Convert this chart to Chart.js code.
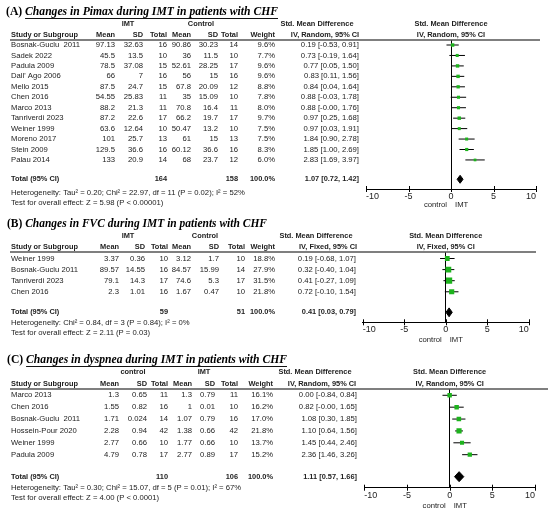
<!DOCTYPE html>
<html>
<head>
<meta charset="utf-8">
<script src="https://cdn.jsdelivr.net/npm/chart.js@4.4.1/dist/chart.umd.min.js"></script>
<style>
  body { margin: 0; background: #fff; }
  #wrap { position: relative; width: 550px; height: 516px; }
  canvas { position: absolute; left: 0; top: 0; }
</style>
</head>
<body>
<div id="wrap">
  <canvas id="chartA" width="550" height="516"></canvas>
  <canvas id="chartB" width="550" height="516"></canvas>
  <canvas id="chartC" width="550" height="516"></canvas>
</div>
<script>
// (A) Pimax
const studiesA = ['Bosnak-Guclu  2011', 'Sadek 2022', 'Padula 2009', "Dall' Ago 2006", 'Mello 2015', 'Chen 2016',
  'Marco 2013', 'Tanriverdi 2023', 'Weiner 1999', 'Moreno 2017', 'Stein 2009', 'Palau 2014'];
const imtMeanA = [97.13, 45.5, 78.5, 66, 87.5, 54.55, 88.2, 87.2, 63.6, 101, 129.5, 133];
const imtSdA = [32.63, 13.5, 37.08, 7, 24.7, 25.83, 21.3, 22.6, 12.64, 25.7, 36.6, 20.9];
const imtNA = [16, 10, 15, 16, 15, 11, 11, 17, 10, 13, 16, 14];
const ctlMeanA = [90.86, 36, 52.61, 56, 67.8, 35, 70.8, 66.2, 50.47, 61, 60.12, 68];
const ctlSdA = [30.23, 11.5, 28.25, 15, 20.09, 15.09, 16.4, 19.7, 13.2, 15, 36.6, 23.7];
const ctlNA = [14, 10, 17, 16, 12, 10, 11, 17, 10, 13, 16, 12];
const weightA = [9.6, 7.7, 9.6, 9.6, 8.8, 7.8, 8.0, 9.7, 7.5, 7.5, 8.3, 6.0];
const smdA = [0.19, 0.73, 0.77, 0.83, 0.84, 0.88, 0.88, 0.97, 0.97, 1.84, 1.85, 2.83];
const lowA = [-0.53, -0.19, 0.05, 0.11, 0.04, -0.03, -0.00, 0.25, 0.03, 0.90, 1.00, 1.69];
const highA = [0.91, 1.64, 1.50, 1.56, 1.64, 1.78, 1.76, 1.68, 1.91, 2.78, 2.69, 3.97];
const totalA = [1.07, 0.72, 1.42];

// (B) FVC
const studiesB = ['Weiner 1999', 'Bosnak-Guclu 2011', 'Tanriverdi 2023', 'Chen 2016'];
const imtMeanB = [3.37, 89.57, 79.1, 2.3];
const imtSdB = [0.36, 14.55, 14.3, 1.01];
const imtNB = [10, 16, 17, 16];
const ctlMeanB = [3.12, 84.57, 74.6, 1.67];
const ctlSdB = [1.7, 15.99, 5.3, 0.47];
const ctlNB = [10, 14, 17, 10];
const weightB = [18.8, 27.9, 31.5, 21.8];
const smdB = [0.19, 0.32, 0.41, 0.72];
const lowB = [-0.68, -0.40, -0.27, -0.10];
const highB = [1.07, 1.04, 1.09, 1.54];
const totalB = [0.41, 0.03, 0.79];

// (C) dyspnea
const studiesC = ['Marco 2013', 'Chen 2016', 'Bosnak-Guclu  2011', 'Hossein-Pour 2020', 'Weiner 1999', 'Padula 2009'];
const ctlMeanC = [1.3, 1.55, 1.71, 2.28, 2.77, 4.79];
const ctlSdC = [0.65, 0.82, 0.024, 0.94, 0.66, 0.78];
const ctlNC = [11, 16, 14, 42, 10, 17];
const imtMeanC = [1.3, 1, 1.07, 1.38, 1.77, 2.77];
const imtSdC = [0.79, 0.01, 0.79, 0.66, 0.66, 0.89];
const imtNC = [11, 10, 16, 42, 10, 17];
const weightC = [16.1, 16.2, 17.0, 21.8, 13.7, 15.2];
const smdC = [0.00, 0.82, 1.08, 1.10, 1.45, 2.36];
const lowC = [-0.84, -0.00, 0.30, 0.64, 0.44, 1.46];
const highC = [0.84, 1.65, 1.85, 1.56, 2.46, 3.26];
const totalC = [1.11, 0.57, 1.66];

const xTicks = [-10, -5, 0, 5, 10];

const SANS = '"Liberation Sans", Arial, sans-serif';
const SERIF = '"Liberation Serif", "Times New Roman", serif';
const TXT = '7.7px ' + SANS;
const TXT_B = 'bold 7.4px ' + SANS;
const GREEN = '#1db31d';
const INK = '#222';

function fmt(v) {
  return (Object.is(v, -0) ? '-' : '') + v.toFixed(2);
}
function ciText(e, lo, hi) {
  return fmt(e) + ' [' + fmt(lo) + ', ' + fmt(hi) + ']';
}
function sum(a) { return a.reduce((s, v) => s + v, 0); }

// title: bold "(A)" + bold italic text, squeezed a little to the width of the original
function drawTitle(ctx, p) {
  const size = 13.5;
  const lead = p.title[0] + ' ';
  const f1 = 'bold ' + size + 'px ' + SERIF;
  const f2 = 'italic bold ' + size + 'px ' + SERIF;
  ctx.font = f1;
  const w1 = ctx.measureText(lead).width;
  ctx.font = f2;
  const w2 = ctx.measureText(p.title[1]).width;
  const sx = Math.min(1, p.titleW / (w1 + w2));

  ctx.save();
  ctx.translate(p.titleX, p.titleY);
  ctx.scale(sx, 1);
  ctx.fillStyle = '#000';
  ctx.textAlign = 'left';
  ctx.textBaseline = 'middle';
  ctx.font = f1;
  ctx.fillText(lead, 0, 0);
  ctx.font = f2;
  ctx.fillText(p.title[1], w1, 0);
  if (p.underline) {
    ctx.strokeStyle = '#000';
    ctx.lineWidth = 1;
    ctx.beginPath();
    ctx.moveTo(w1, 6.5);
    ctx.lineTo(w1 + w2, 6.5);
    ctx.stroke();
  }
  ctx.restore();
}

function tablePlugin(p) {
  return {
    id: 'table',
    afterDraw(chart) {
      const ctx = chart.ctx, ys = chart.scales.y, xs = chart.scales.x, area = chart.chartArea;
      const mid = (area.left + area.right) / 2;
      ctx.save();
      drawTitle(ctx, p);

      // headers
      ctx.fillStyle = INK;
      ctx.textBaseline = 'middle';
      ctx.font = TXT_B;
      ctx.textAlign = 'center';
      ctx.fillText(p.groups[0], p.groupX[0], p.head1Y);
      ctx.fillText(p.groups[1], p.groupX[1], p.head1Y);
      ctx.fillText('Std. Mean Difference', p.smdX, p.head1Y);
      ctx.fillText('Std. Mean Difference', mid, p.head1Y);
      ctx.fillText(p.method, p.ivX, p.head2Y);
      ctx.fillText(p.method, mid, p.head2Y);
      ctx.textAlign = 'left';
      ctx.fillText('Study or Subgroup', 11, p.head2Y);
      ctx.textAlign = 'right';
      ['Mean', 'SD', 'Total', 'Mean', 'SD', 'Total', 'Weight'].forEach((h, k) => ctx.fillText(h, p.cols[k], p.head2Y));

      ctx.strokeStyle = '#555';
      ctx.lineWidth = 1.5;
      ctx.beginPath();
      ctx.moveTo(10, p.lineY);
      ctx.lineTo(p.lineEnd, p.lineY);
      ctx.stroke();

      // study rows
      ctx.font = TXT;
      p.studies.forEach((s, i) => {
        const py = ys.getPixelForValue(i);
        ctx.textAlign = 'left';
        ctx.fillText(s, 11, py);
        ctx.textAlign = 'right';
        const cells = [p.m1[i], p.sd1[i], p.n1[i], p.m2[i], p.sd2[i], p.n2[i]].map(String);
        cells.push(p.weight[i].toFixed(1) + '%');
        cells.forEach((c, k) => ctx.fillText(c, p.cols[k], py));
        ctx.fillText(ciText(p.smd[i], p.low[i], p.high[i]), p.ciRight, py);
      });

      // total row
      const ty = ys.getPixelForValue(p.totalRow);
      ctx.font = TXT_B;
      ctx.textAlign = 'left';
      ctx.fillText('Total (95% CI)', 11, ty);
      ctx.textAlign = 'right';
      ctx.fillText(String(sum(p.n1)), p.cols[2], ty);
      ctx.fillText(String(sum(p.n2)), p.cols[5], ty);
      ctx.fillText('100.0%', p.cols[6], ty);
      ctx.fillText(ciText(p.total[0], p.total[1], p.total[2]), p.ciRight, ty);

      ctx.font = TXT;
      ctx.textAlign = 'left';
      ctx.fillText(p.het, 11, p.hetY);
      ctx.fillText(p.test, 11, p.testY);

      // axis tick marks
      ctx.strokeStyle = '#000';
      ctx.lineWidth = 1;
      xs.ticks.forEach(t => {
        const px = Math.round(xs.getPixelForValue(t.value)) + 0.5;
        ctx.beginPath();
        ctx.moveTo(px, area.bottom - 3);
        ctx.lineTo(px, area.bottom + 3);
        ctx.stroke();
      });

      // favours labels
      const zx = xs.getPixelForValue(0);
      ctx.textAlign = 'right';
      ctx.fillText('control', zx - 4, p.labelY);
      ctx.textAlign = 'left';
      ctx.fillText('IMT', zx + 4, p.labelY);
      ctx.restore();
    }
  };
}

function forestPanel(id, p) {
  const datasets = [{
    type: 'scatter',
    data: p.smd.map((v, i) => ({ x: v, y: i })),
    pointStyle: 'rect',
    pointRadius: p.weight.map(w => 0.78 * Math.sqrt(w)),
    backgroundColor: GREEN,
    borderWidth: 0,
    order: 0
  }];
  p.smd.forEach((v, i) => datasets.push({
    type: 'line',
    data: [{ x: p.low[i], y: i }, { x: p.high[i], y: i }],
    borderColor: '#000',
    borderWidth: 1,
    pointRadius: 0,
    order: 1
  }));
  const t = p.totalRow, h = p.diamondH;
  datasets.push({
    type: 'line',
    data: [
      { x: p.total[1], y: t }, { x: p.total[0], y: t - h },
      { x: p.total[2], y: t }, { x: p.total[0], y: t + h }, { x: p.total[1], y: t }
    ],
    borderColor: '#000',
    backgroundColor: '#000',
    borderWidth: 1,
    pointRadius: 0,
    fill: 'shape',
    order: 2
  });

  new Chart(document.getElementById(id), {
    type: 'scatter',
    data: { datasets },
    options: {
      responsive: false,
      animation: false,
      devicePixelRatio: 1,
      layout: {
        padding: { left: p.left, right: 550 - p.right, top: p.top, bottom: 516 - p.axisY - 20 }
      },
      plugins: { legend: { display: false }, tooltip: { enabled: false } },
      scales: {
        x: {
          type: 'linear',
          min: -10,
          max: 10,
          afterBuildTicks: s => { s.ticks = xTicks.map(v => ({ value: v })); },
          afterFit: s => { s.height = 20; },
          border: { display: true, color: '#000', width: 1 },
          grid: {
            drawTicks: false,
            color: c => (c.tick && c.tick.value === 0 ? '#000' : 'rgba(0,0,0,0)'),
            lineWidth: 1
          },
          ticks: { align: 'inner', padding: 2, color: INK, font: { family: SANS, size: 9 } }
        },
        y: { type: 'linear', display: false, reverse: true, min: p.yMin, max: p.yMax }
      }
    },
    plugins: [tablePlugin(p)]
  });
}

forestPanel('chartA', {
  title: ['(A)', 'Changes in Pimax during IMT in patients with CHF'], underline: true,
  titleX: 6, titleY: 12, titleW: 272,
  groups: ['IMT', 'Control'], groupX: [128, 201],
  method: 'IV, Random, 95% CI',
  studies: studiesA, m1: imtMeanA, sd1: imtSdA, n1: imtNA, m2: ctlMeanA, sd2: ctlSdA, n2: ctlNA,
  weight: weightA, smd: smdA, low: lowA, high: highA, total: totalA,
  het: 'Heterogeneity: Tau\u00b2 = 0.20; Chi\u00b2 = 22.97, df = 11 (P = 0.02); I\u00b2 = 52%',
  test: 'Test for overall effect: Z = 5.98 (P < 0.00001)',
  cols: [115, 143, 167, 191, 218, 238, 275], smdX: 317, ivX: 325, ciRight: 359,
  head1Y: 24, head2Y: 35, lineY: 40, lineEnd: 540,
  top: 40, axisY: 189, left: 366, right: 536, yMin: -0.48, yMax: 13.78, totalRow: 12.85, diamondH: 0.38,
  hetY: 192.7, testY: 202.5, labelY: 204.5
});

forestPanel('chartB', {
  title: ['(B)', 'Changes in FVC during IMT in patients with CHF'], underline: false,
  titleX: 7, titleY: 224, titleW: 260,
  groups: ['IMT', 'Control'], groupX: [128, 205],
  method: 'IV, Fixed, 95% CI',
  studies: studiesB, m1: imtMeanB, sd1: imtSdB, n1: imtNB, m2: ctlMeanB, sd2: ctlSdB, n2: ctlNB,
  weight: weightB, smd: smdB, low: lowB, high: highB, total: totalB,
  het: 'Heterogeneity: Chi\u00b2 = 0.84, df = 3 (P = 0.84); I\u00b2 = 0%',
  test: 'Test for overall effect: Z = 2.11 (P = 0.03)',
  cols: [119, 145, 168, 191, 219, 245, 275], smdX: 316, ivX: 328, ciRight: 356,
  head1Y: 236, head2Y: 247, lineY: 252, lineEnd: 536,
  top: 252, axisY: 322.3, left: 362.7, right: 528.7, yMin: -0.586, yMax: 5.75, totalRow: 4.85, diamondH: 0.4,
  hetY: 323.3, testY: 333.3, labelY: 340
});

forestPanel('chartC', {
  title: ['(C)', 'Changes in dyspnea during IMT in patients with CHF'], underline: true,
  titleX: 7, titleY: 360, titleW: 280,
  groups: ['control', 'IMT'], groupX: [133, 204],
  method: 'IV, Random, 95% CI',
  studies: studiesC, m1: ctlMeanC, sd1: ctlSdC, n1: ctlNC, m2: imtMeanC, sd2: imtSdC, n2: imtNC,
  weight: weightC, smd: smdC, low: lowC, high: highC, total: totalC,
  het: 'Heterogeneity: Tau\u00b2 = 0.30; Chi\u00b2 = 15.07, df = 5 (P = 0.01); I\u00b2 = 67%',
  test: 'Test for overall effect: Z = 4.00 (P < 0.0001)',
  cols: [119, 147, 168, 192, 215, 238, 273], smdX: 315, ivX: 322, ciRight: 357,
  head1Y: 372, head2Y: 384, lineY: 389, lineEnd: 548,
  top: 389, axisY: 487.7, left: 364.3, right: 535, yMin: -0.53, yMax: 7.78, totalRow: 6.85, diamondH: 0.42,
  hetY: 488, testY: 498, labelY: 506
});
</script>
</body>
</html>
